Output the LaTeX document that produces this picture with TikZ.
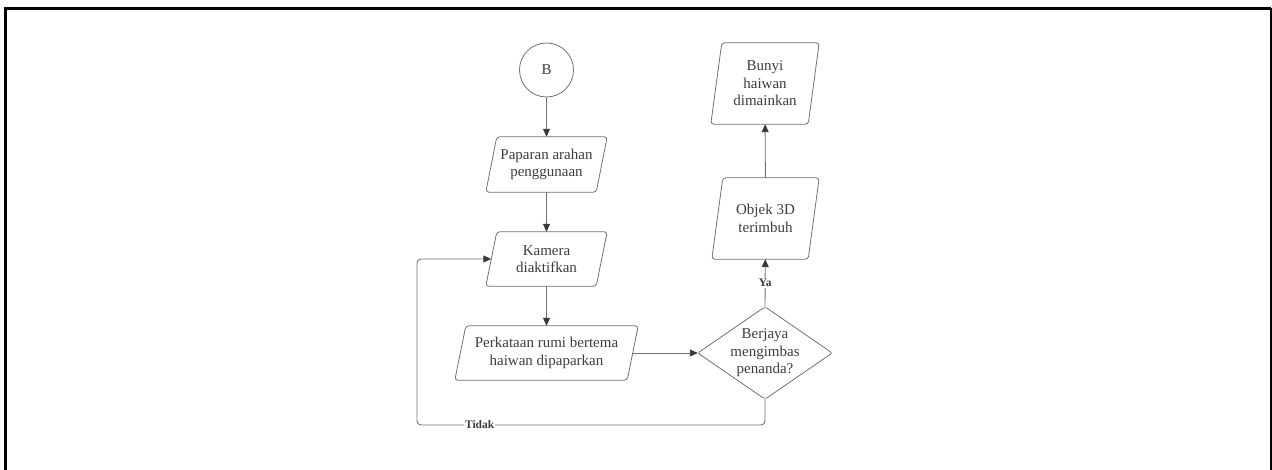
\documentclass[tikz,border=0pt]{standalone}
\usepackage{fontspec}
\setmainfont{Liberation Serif}
\usetikzlibrary{arrows.meta,calc}

\definecolor{edge}{HTML}{707070}
\definecolor{ink}{HTML}{3C3C3C}
\definecolor{tipc}{HTML}{343A42}

\tikzset{
  label text/.style={font=\fontsize{15}{17.5}\selectfont, text=ink, align=center},
  holder/.style={rectangle, draw=none, inner sep=0pt, label text},
  outline/.style={draw=edge, line width=0.8pt, rounded corners=3pt},
  conn/.style={draw=edge, line width=0.9pt, -{Triangle[length=8pt,width=7pt,color=tipc]}},
  tag/.style={font=\fontsize{11.5}{12}\selectfont\bfseries, text=ink, fill=white, inner sep=1pt},
}

% parallelogram: name, centre, width, height, text
\newcommand\slantbox[5]{%
  \node[holder, minimum width=#3pt, minimum height=#4pt] (#1) at (#2) {#5};
  \draw[outline] ([xshift=11pt]#1.north west) -- (#1.north east)
    -- ([xshift=-11pt]#1.south east) -- (#1.south west) -- cycle;
}

\begin{document}
\begin{tikzpicture}[x=1pt,y=-1pt]
  \useasboundingbox (0,0) rectangle (1272,470);

  % frame
  \draw[line width=3pt] (5.5,470) -- (5.5,8.5) -- (1271,8.5);
  \draw[line width=1.5pt] (1271,8.5) -- (1271,470);

  % start connector
  \node[circle, draw=edge, line width=0.8pt, minimum size=54pt, inner sep=0pt, label text] (B) at (546.5,70) {B};

  \slantbox{pap}{546.5,164.5}{121}{55}{Paparan arahan\\penggunaan}
  \slantbox{kam}{546.5,259}{121}{54}{Kamera\\diaktifkan}
  \slantbox{per}{546.5,353}{183}{54}{Perkataan rumi bertema\\haiwan dipaparkan}
  \slantbox{obj}{765.5,218.5}{107}{81}{Objek 3D\\terimbuh}
  \slantbox{bun}{765,83.5}{108}{81}{Bunyi\\haiwan\\dimainkan}

  % decision
  \node[holder, minimum width=134pt, minimum height=92pt] (dec) at (765,353) {Berjaya\\mengimbas\\penanda?};
  \draw[outline, rounded corners=2pt] (dec.north) -- (dec.east) -- (dec.south) -- (dec.west) -- cycle;

  % connection points on slanted sides
  \coordinate (kamL) at ([xshift=5.5pt]kam.west);
  \coordinate (perR) at ([xshift=-5.5pt]per.east);
  \coordinate (turnA) at (765,425);
  \coordinate (turnB) at (417,425);
  \coordinate (turnC) at (417,259);

  % flow
  \draw[conn] (B) -- (pap);
  \draw[conn] (pap) -- (kam);
  \draw[conn] (kam) -- (per);
  \draw[conn] (perR) -- (dec.west);
  \draw[conn] (dec.north) -- node[tag, pos=0.5] {Ya} (obj);
  \draw[conn] (obj) -- (bun);
  \draw[conn, rounded corners=4pt] (dec.south) -- (turnA) -- node[tag, pos=0.82] {Tidak} (turnB) -- (turnC) -- (kamL);
\end{tikzpicture}
\end{document}
